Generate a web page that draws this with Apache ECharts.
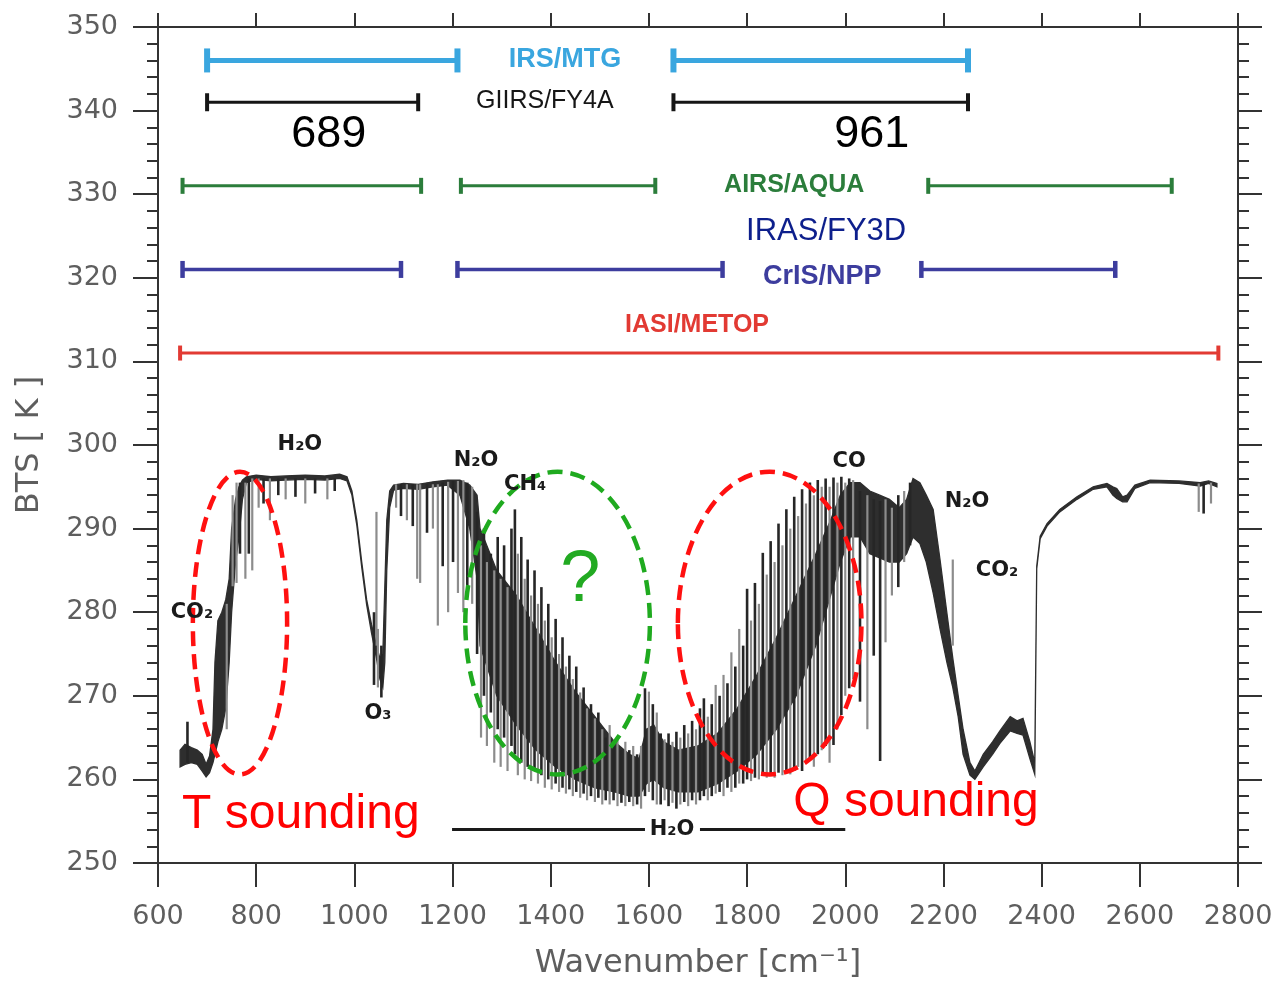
<!DOCTYPE html>
<html><head><meta charset="utf-8">
<script src="https://cdn.jsdelivr.net/npm/echarts/dist/echarts.min.js"></script>
<style>html,body{margin:0;padding:0;background:#fff}#c{width:1277px;height:985px}</style>
</head><body><div id="c"></div>
<script>
// ---------------- DATA ----------------
// Spectrum dense core (envelope), wavenumber [cm-1] vs brightness temperature [K]
const bandWn   = [645,655,668,680,690,698,705,712,716,722,730,738,745,750,758,765,772,780,800,830,860,900,940,970,985,995,1005,1015,1025,1035,1045,1052,1058,1062,1066,1072,1080,1100,1130,1160,1190,1215,1235,1250,1256,1290,1330,1370,1410,1450,1490,1530,1560,1580,1595,1610,1630,1660,1700,1740,1780,1820,1860,1900,1940,1970,1990,2010,2030,2050,2070,2090,2110,2125,2138,2152,2165,2179,2193,2207,2219,2230,2240,2254,2264,2281,2300,2315,2336,2350,2362,2376,2386,2390,2397,2411,2437,2472,2505,2533,2545,2553,2565,2574,2590,2621,2680,2723,2740,2757];
const bandHigh = [263.5,264.2,263.8,263.5,263.0,261.8,262.8,266.0,274.0,279.0,280.0,281.5,284.0,290.0,293.5,295.0,295.8,296.2,296.4,296.2,296.3,296.4,296.3,296.5,296.2,294.5,291.0,286.0,281.5,278.5,276.0,274.5,275.0,283.0,291.0,294.5,295.2,295.4,295.3,295.6,295.8,295.8,295.2,294.0,290.0,285.0,282.0,278.0,274.0,270.5,267.5,264.5,263.0,262.5,266.0,266.5,264.5,263.5,264.0,265.5,268.5,272.5,277.0,282.0,287.0,291.0,294.0,295.5,295.5,294.5,294.0,293.5,292.5,293.5,296.0,295.5,294.0,292.3,286.3,279.9,274.5,270.0,266.0,262.0,261.0,263.0,264.5,265.8,267.5,267.0,267.3,264.5,262.0,285.5,289.1,290.6,292.3,293.8,295.0,295.4,295.0,294.8,293.8,294.0,295.2,295.8,295.7,295.5,295.7,295.4];
const bandLow  = [261.5,261.8,262.0,261.8,261.0,260.3,260.8,262.0,263.0,264.5,266.0,268.5,274.0,280.0,286.0,289.0,293.5,295.5,295.9,295.7,295.8,295.9,295.8,296.0,295.7,294.0,290.4,285.4,280.9,277.5,274.5,272.0,271.0,274.0,285.0,292.5,294.6,294.8,294.7,295.0,295.2,294.0,290.0,284.0,276.0,270.0,266.5,263.5,261.5,260.0,259.0,258.5,258.0,258.0,259.5,260.0,259.0,258.5,258.5,259.5,261.0,263.0,266.0,270.0,276.0,282.0,286.0,289.0,289.0,287.0,286.5,286.0,286.0,287.0,289.0,288.2,286.0,282.3,278.0,274.0,271.0,267.5,263.0,260.5,260.0,261.5,263.0,264.3,265.8,265.5,265.3,262.5,260.6,285.2,288.8,290.3,292.0,293.5,294.7,295.0,294.0,293.6,293.2,293.2,294.8,295.5,295.4,295.1,295.4,295.0];

// Individual absorption lines: wavenumber, top BT, bottom BT, tone (0 dark, 1 grey)
const spikeWn     = [660,740,752,760,767,778,785,792,805,815,828,845,860,880,900,920,945,960,1040,1045,1048,1055,1085,1095,1107,1119,1128,1134,1148,1160,1170,1180,1191,1201,1211,1222,1230,1240,
1250,1258,1264,1270,1278,1285,1292,1298,1305,1312,1320,1327,1333,1340,1347,1353,1360,1367,1374,1381,1388,1395,1402,1410,1417,1424,1431,1438,1445,1452,1460,1467,1474,1482,1490,1497,1505,1512,1520,1528,1536,1544,1552,1560,1568,1576,1584,1592,1600,1608,1616,
1624,1632,1640,1648,1656,1664,1672,1680,1688,1696,1704,1712,1720,1728,1736,1744,1752,1760,1768,1776,1784,1792,1800,1808,1816,1824,1832,1840,1848,1856,1864,1872,1880,1888,1896,1904,1912,1920,1928,1936,1944,1952,1960,1968,1976,1984,1992,2000,2008,2016,
2030,2045,2058,2071,2082,2095,2108,2120,2132,2219,2720,2730,2745];
const spikeTop    = [266.9,281.0,294.0,295.5,295.5,295.5,296.0,296.0,296.0,296.0,296.0,296.0,296.0,296.0,296.0,296.0,296.0,296.0,280.0,292.0,278.0,276.0,295.3,295.3,295.3,295.3,295.3,295.3,295.3,295.3,295.3,295.5,295.6,295.7,295.7,295.8,295.5,295.0,
292.0,288.0,290.0,286.0,287.0,285.0,289.0,284.0,288.0,283.0,290.0,292.3,287.0,289.0,284.0,286.3,282.0,285.0,281.0,283.0,279.0,281.0,277.0,279.2,275.0,277.0,273.5,274.8,272.0,273.5,270.4,271.0,268.5,269.0,267.3,268.0,266.0,265.0,266.5,264.2,265.0,263.5,264.5,263.5,264.0,263.0,264.0,270.9,270.5,269.0,268.0,
265.5,264.8,265.5,264.5,265.7,265.0,266.5,265.5,267.0,266.0,268.5,269.7,267.5,269.0,271.3,270.0,272.5,271.5,275.2,273.5,278.0,276.0,282.8,279.0,283.5,281.0,287.1,284.5,288.5,286.0,290.6,288.0,292.3,290.0,293.8,291.5,294.7,293.0,295.5,294.0,295.8,295.0,296.0,295.0,296.1,295.5,296.2,295.5,296.0,295.8,
294.5,294.0,293.5,293.3,293.5,292.5,294.0,294.5,295.5,286.3,295.4,295.4,295.5];
const spikeBottom = [262.0,266.0,283.1,283.5,287.0,284.0,287.0,285.0,292.5,293.0,291.0,294.0,293.5,293.8,293.0,294.2,293.5,294.5,271.3,276.0,271.0,269.8,292.5,291.5,291.0,290.3,284.0,283.5,289.5,290.0,278.4,285.5,280.0,286.0,282.3,280.0,283.0,281.0,
275.0,265.0,270.0,264.0,268.0,262.0,266.0,261.5,265.0,261.0,264.0,263.0,260.5,262.0,260.0,261.5,259.8,261.0,259.5,260.5,259.0,260.0,258.8,259.5,258.5,259.0,258.3,258.8,258.0,258.5,257.8,258.3,257.5,258.0,257.3,257.8,257.0,257.5,257.0,257.5,256.8,257.2,256.8,257.3,256.8,257.0,256.5,258.0,258.5,257.5,257.0,
257.0,257.5,256.8,257.2,256.5,257.0,257.3,256.8,257.5,257.0,257.5,258.0,257.5,258.0,258.3,258.5,258.0,259.0,258.5,259.0,259.5,259.5,260.0,259.8,260.2,260.0,260.5,260.2,260.5,260.2,260.8,260.5,261.0,260.6,261.0,261.5,261.0,262.0,262.5,261.5,263.0,263.5,264.0,262.0,264.1,266.0,267.7,270.0,270.9,272.0,
269.3,266.0,274.8,262.2,276.4,282.0,283.0,286.0,288.0,276.0,292.0,291.8,293.0];
const spikeTone   = [0,1,1,1,0,1,0,1,1,0,1,0,1,0,1,0,1,0,0,1,1,0,1,0,1,0,1,1,0,1,1,0,1,0,1,1,0,1,
0,1,0,1,0,1,0,1,0,1,0,0,1,0,1,0,1,0,1,0,1,0,1,0,1,0,1,0,1,0,1,0,1,0,1,0,1,0,1,0,1,0,1,0,1,0,1,0,1,0,1,
0,1,0,1,0,1,0,1,0,1,0,0,1,0,1,0,1,0,1,0,1,0,0,1,0,1,0,1,0,1,0,1,0,1,0,1,0,1,0,1,0,1,0,1,0,1,0,1,0,1,
0,1,0,0,1,1,0,1,0,1,1,0,1];

// Instrument spectral coverage [start, end] in cm-1, drawn at a given BT row
const instrumentNames = ['IRS/MTG','GIIRS/FY4A','AIRS/AQUA','CrIS/NPP','IASI/METOP'];
const instrumentRow   = [346, 341, 331, 321, 311];
const irsRanges   = [[700,1210],[1650,2250]];
const giirsRanges = [[700,1130],[1650,2250]];
const airsRanges  = [[650,1136],[1217,1613],[2169,2665]];
const crisRanges  = [[650,1095],[1210,1750],[2155,2550]];
const iasiRanges  = [[645,2760]];

// H2O band marker along the bottom
const h2oBarRanges = [[1199,1592],[1704,2000]];
const h2oBarRow = 254;

// Highlight ellipses: centre wavenumber, centre BT, half-width (cm-1), half-height (K)
const ellipseWn   = [767, 1414, 1846];
const ellipseBT   = [278.7, 278.7, 278.7];
const ellipseRWn  = [96, 188, 187];
const ellipseRBT  = [18.1, 18.1, 18.1];

// Text annotations (anchored in data units)
const annoText = ['IRS/MTG','GIIRS/FY4A','689','961','AIRS/AQUA','IRAS/FY3D','CrIS/NPP','IASI/METOP',
  'H₂O','N₂O','CH₄','CO','N₂O','CO₂','CO₂','O₃','H₂O','?','T sounding','Q sounding'];
const annoWn = [1429,1388,948,2054,1896,1961,1953,1698, 889,1248,1348,2008,2248,2309,669,1048,1647, 1460,891,2144];
const annoBT = [346.1,341.1,337.1,337.1,331.1,325.5,320.2,314.3, 300.1,298.2,295.3,298.0,293.2,285.0,279.9,267.9,254.0, 283.7,255.8,257.2];
const annoKind = ['irs','giirs','num','num','airs','iras','cris','iasi','mol','mol','mol','mol','mol','mol','mol','mol','mol','q','red','red'];

const xTickLabels = ['600','800','1000','1200','1400','1600','1800','2000','2200','2400','2600','2800'];
const yTickLabels = ['250','260','270','280','290','300','310','320','330','340','350'];

// ---------------- STYLES ----------------
const kindStyle = {
  irs:   {fill:'#3aa6df', fontSize:27, fontWeight:'bold', fontFamily:'Liberation Sans'},
  giirs: {fill:'#161616', fontSize:25, fontWeight:'normal', fontFamily:'Liberation Sans'},
  num:   {fill:'#000000', fontSize:45, fontWeight:'normal', fontFamily:'Liberation Sans'},
  airs:  {fill:'#2b7d3b', fontSize:25, fontWeight:'bold', fontFamily:'Liberation Sans'},
  iras:  {fill:'#0d1f8c', fontSize:31, fontWeight:'normal', fontFamily:'Liberation Sans'},
  cris:  {fill:'#3d3d9e', fontSize:27, fontWeight:'bold', fontFamily:'Liberation Sans'},
  iasi:  {fill:'#e23a33', fontSize:25, fontWeight:'bold', fontFamily:'Liberation Sans'},
  mol:   {fill:'#1a1a1a', fontSize:21, fontWeight:'bold', fontFamily:'DejaVu Sans'},
  q:     {fill:'#22aa22', fontSize:72, fontWeight:'normal', fontFamily:'Liberation Sans'},
  red:   {fill:'#ff0000', fontSize:48, fontWeight:'normal', fontFamily:'Liberation Sans'}
};
const instStyle = [
  {color:'#3aa6df', width:5, cap:24},
  {color:'#161616', width:3, cap:18},
  {color:'#2b7d3b', width:3, cap:16},
  {color:'#3d3d9e', width:3.5, cap:17},
  {color:'#e23a33', width:3, cap:15}
];
const instRanges = [irsRanges, giirsRanges, airsRanges, crisRanges, iasiRanges];
const ellipseColor = ['#ff1010', '#1faa1f', '#ff1010'];
const axisColor = '#333';
const labelColor = '#5e5e5e';

// ---------------- CHART ----------------
const chart = echarts.init(document.getElementById('c'), null, {renderer:'canvas'});

function rangeSeries(ranges, row, st, z) {
  return {
    type:'custom', z: z, silent:true,
    data: ranges.map(r => [r[0], r[1], row]),
    encode:{x:[0,1], y:2},
    renderItem: function(params, api) {
      const a = api.coord([api.value(0), api.value(2)]);
      const b = api.coord([api.value(1), api.value(2)]);
      const h = st.cap/2;
      const ls = {stroke: st.color, lineWidth: st.width};
      return {type:'group', children:[
        {type:'line', shape:{x1:a[0], y1:a[1], x2:b[0], y2:b[1]}, style:ls},
        st.cap ? {type:'line', shape:{x1:a[0], y1:a[1]-h, x2:a[0], y2:a[1]+h}, style:{stroke:st.color, lineWidth:st.width+1}} : null,
        st.cap ? {type:'line', shape:{x1:b[0], y1:b[1]-h, x2:b[0], y2:b[1]+h}, style:{stroke:st.color, lineWidth:st.width+1}} : null
      ].filter(Boolean)};
    }
  };
}

function spikeSeries(tone, color, width, z) {
  const data = [];
  for (let i = 0; i < spikeWn.length; i++) {
    if (spikeTone[i] === tone) data.push([spikeWn[i], spikeTop[i], spikeBottom[i]]);
  }
  return {
    type:'custom', z:z, silent:true, data:data, encode:{x:0, y:[1,2]},
    renderItem: function(params, api) {
      const p1 = api.coord([api.value(0), api.value(1)]);
      const p2 = api.coord([api.value(0), api.value(2)]);
      return {type:'line', shape:{x1:p1[0], y1:p1[1], x2:p2[0], y2:p2[1]}, style:{stroke:color, lineWidth:width}};
    }
  };
}

const series = [];
// dense core
series.push({
  type:'custom', z:2, silent:true,
  data:[[bandWn[0], bandHigh[0]]], encode:{x:0, y:1},
  renderItem: function(params, api) {
    const pts = [];
    for (let i = 0; i < bandWn.length; i++) pts.push(api.coord([bandWn[i], bandHigh[i]]));
    for (let i = bandWn.length - 1; i >= 0; i--) pts.push(api.coord([bandWn[i], bandLow[i]]));
    return {type:'polygon', shape:{points:pts}, style:{fill:'#2e2e2e', stroke:'#2e2e2e', lineWidth:1.3}};
  }
});
series.push(spikeSeries(1, '#8c8c8c', 2.2, 3));
series.push(spikeSeries(0, '#262626', 2.6, 4));
// instruments
for (let k = 0; k < instRanges.length; k++) series.push(rangeSeries(instRanges[k], instrumentRow[k], instStyle[k], 5));
// H2O bar
series.push(rangeSeries(h2oBarRanges, h2oBarRow, {color:'#1a1a1a', width:3, cap:0}, 5));
// ellipses
series.push({
  type:'custom', z:8, silent:true,
  data: ellipseWn.map((w,i) => [w, ellipseBT[i], ellipseRWn[i], ellipseRBT[i]]),
  encode:{x:0, y:1},
  renderItem: function(params, api) {
    const c = api.coord([api.value(0), api.value(1)]);
    const ex = api.coord([api.value(0) + api.value(2), api.value(1)]);
    const ey = api.coord([api.value(0), api.value(1) + api.value(3)]);
    return {type:'ellipse', shape:{cx:c[0], cy:c[1], rx:Math.abs(ex[0]-c[0]), ry:Math.abs(c[1]-ey[1])},
      style:{fill:null, stroke:ellipseColor[params.dataIndex], lineWidth:4.5, lineDash:[15,8]}};
  }
});
// annotations
series.push({
  type:'custom', z:10, silent:true,
  data: annoWn.map((w,i) => [w, annoBT[i]]), encode:{x:0, y:1},
  renderItem: function(params, api) {
    const p = api.coord([api.value(0), api.value(1)]);
    const st = kindStyle[annoKind[params.dataIndex]];
    return {type:'text', x:p[0], y:p[1], style:{text:annoText[params.dataIndex], fill:st.fill,
      fontSize:st.fontSize, fontWeight:st.fontWeight, fontFamily:st.fontFamily, align:'center', verticalAlign:'middle'}};
  }
});

const axisLineCfg = {show:true, onZero:false, lineStyle:{color:axisColor, width:2}};
const labelFont = {fontSize:27, color:labelColor, fontFamily:'DejaVu Sans'};

chart.setOption({
  animation:false,
  backgroundColor:'#ffffff',
  grid:{left:158, right:39, top:27, bottom:116, containLabel:false},
  xAxis:[
    {type:'value', position:'bottom', min:600, max:2800, interval:200,
     axisLine:axisLineCfg, axisTick:{show:true, inside:false, length:24, lineStyle:{color:axisColor, width:2}},
     axisLabel:Object.assign({margin:40, formatter:(v)=>xTickLabels[Math.round((v-600)/200)]}, labelFont),
     splitLine:{show:false},
     name:'Wavenumber [cm⁻¹]', nameLocation:'middle', nameGap:85,
     nameTextStyle:{fontSize:32, color:labelColor, fontFamily:'DejaVu Sans'}},
    {type:'value', position:'top', min:600, max:2800, interval:200,
     axisLine:axisLineCfg, axisTick:{show:true, inside:false, length:14, lineStyle:{color:axisColor, width:2}},
     axisLabel:{show:false}, splitLine:{show:false}}
  ],
  yAxis:[
    {type:'value', position:'left', min:250, max:350, interval:10,
     axisLine:axisLineCfg, axisTick:{show:true, inside:false, length:25, lineStyle:{color:axisColor, width:2}},
     minorTick:{show:true, splitNumber:5, length:11, lineStyle:{color:axisColor, width:2}},
     axisLabel:Object.assign({margin:40, formatter:(v)=>yTickLabels[Math.round((v-250)/10)]}, labelFont),
     splitLine:{show:false}, minorSplitLine:{show:false},
     name:'BTS [ K ]', nameLocation:'middle', nameGap:112, nameRotate:90,
     nameTextStyle:{fontSize:32, color:labelColor, fontFamily:'DejaVu Sans'}},
    {type:'value', position:'right', min:250, max:350, interval:10,
     axisLine:axisLineCfg, axisTick:{show:true, inside:false, length:24, lineStyle:{color:axisColor, width:2}},
     minorTick:{show:true, splitNumber:5, length:11, lineStyle:{color:axisColor, width:2}},
     axisLabel:{show:false}, splitLine:{show:false}, minorSplitLine:{show:false}}
  ],
  series: series
});
</script>
</body></html>
